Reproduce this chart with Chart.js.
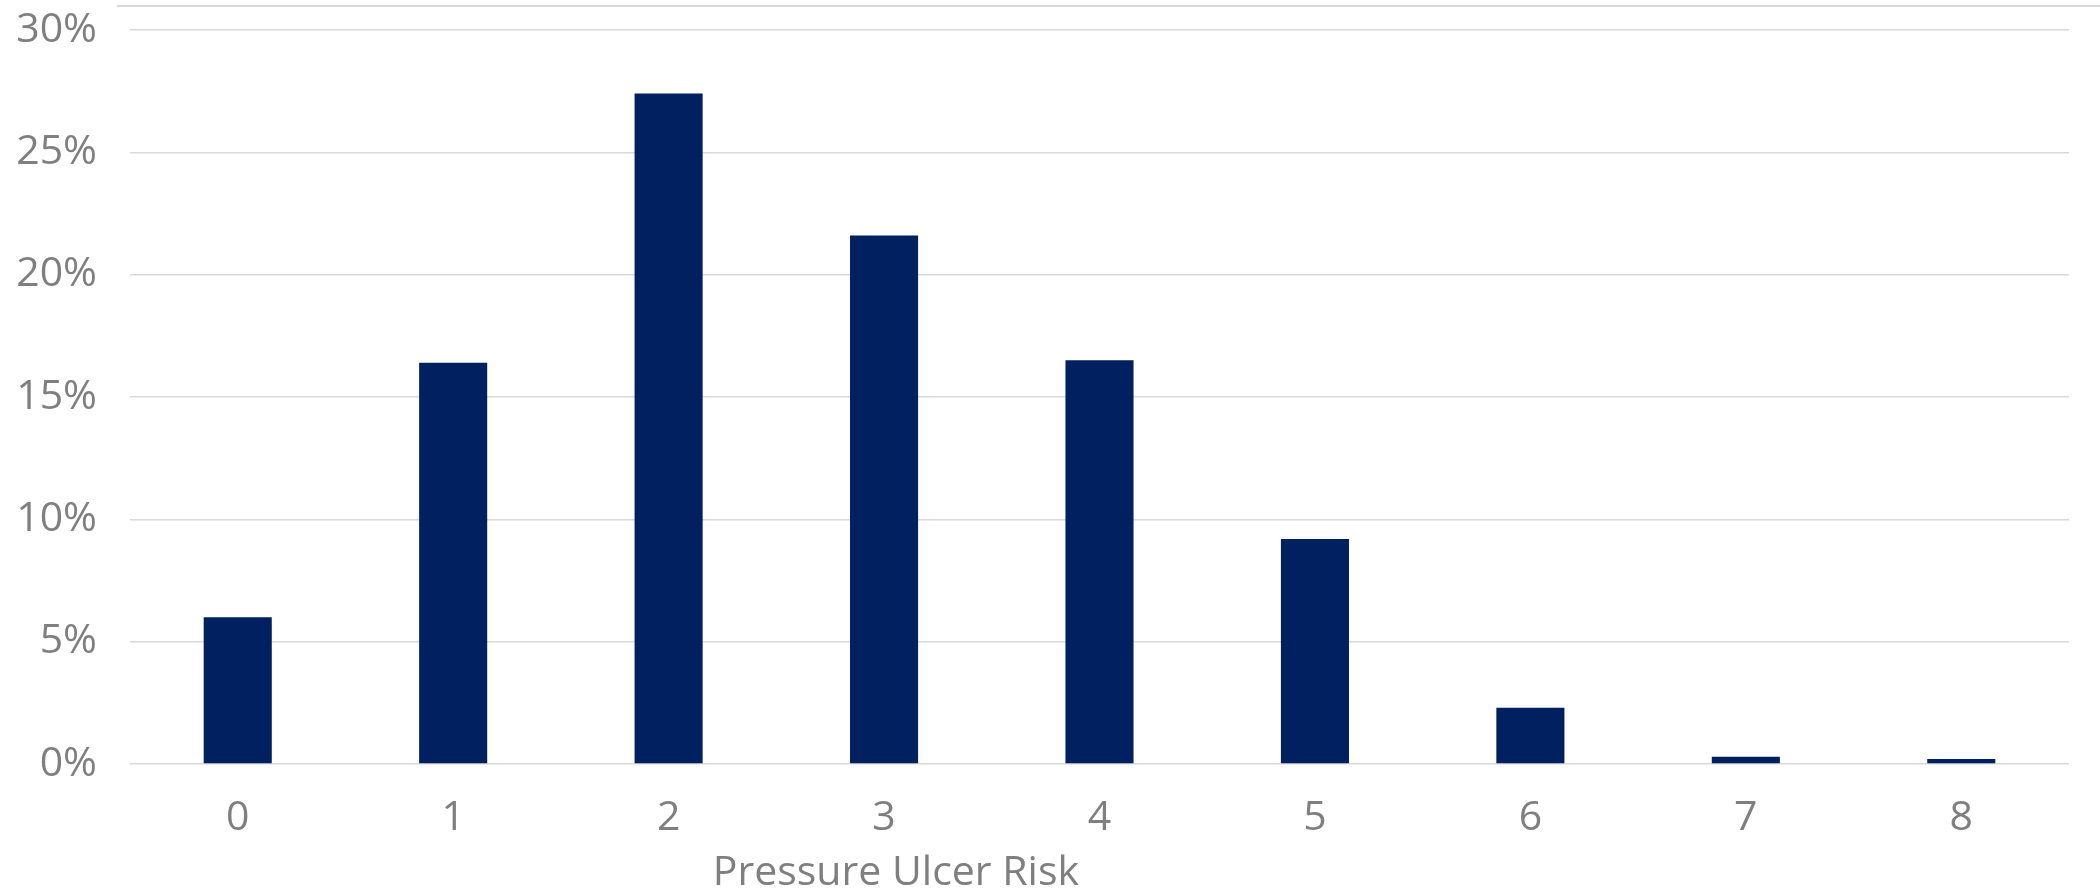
<!DOCTYPE html>
<html>
<head>
<meta charset="utf-8">
<script src="https://cdn.jsdelivr.net/npm/chart.js@4/dist/chart.umd.min.js"></script>
<style>
  html, body { margin: 0; padding: 0; background: #fff; }
  #wrap { position: relative; width: 2100px; height: 891px; }
  #topline { position: absolute; left: 117px; top: 5px; width: 1983px; height: 2px; background: #d9d9d9; }
  canvas { display: block; }
</style>
</head>
<body>
<div id="wrap">
  <canvas id="chart1" width="2100" height="891"></canvas>
  <div id="topline"></div>
</div>
<script>
// data
var riskScores = ['0', '1', '2', '3', '4', '5', '6', '7', '8'];
var sharePct = [6.0, 16.4, 27.4, 21.6, 16.5, 9.2, 2.3, 0.3, 0.2];
var yTicks = [0, 5, 10, 15, 20, 25, 30];
var xTitle = 'Pressure Ulcer Risk';

Chart.defaults.font.family = '"Open Sans", "Noto Sans", sans-serif';
Chart.defaults.font.size = 41;
Chart.defaults.color = '#7f7f7f';

// Excel-style axis title, sitting a bit left of centre
var axisTitle = {
    id: 'axisTitle',
    afterDraw: function (chart) {
        var ctx = chart.ctx, area = chart.chartArea;
        ctx.save();
        ctx.font = '41px "Open Sans", "Noto Sans", sans-serif';
        ctx.fillStyle = '#7f7f7f';
        ctx.textAlign = 'center';
        ctx.textBaseline = 'alphabetic';
        ctx.fillText(xTitle, area.left + (area.right - area.left) * 0.395, chart.height - 6);
        ctx.restore();
    }
};

var ctx = document.getElementById('chart1').getContext('2d');
var chart = new Chart(ctx, {
    type: 'bar',
    data: {
        labels: riskScores,
        datasets: [{
            label: 'Share of patients',
            backgroundColor: '#002060',
            borderWidth: 0,
            data: sharePct,
            categoryPercentage: 1,
            barPercentage: 0.316
        }]
    },
    options: {
        responsive: false,
        animation: false,
        devicePixelRatio: 1,
        layout: { padding: { top: 30, right: 31, bottom: 0, left: 0 } },
        plugins: {
            legend: { display: false },
            tooltip: { enabled: false }
        },
        scales: {
            x: {
                grid: { display: false, drawTicks: false },
                border: { display: false },
                ticks: { padding: 30, color: '#7f7f7f' },
                afterFit: function (s) { s.height = 127; s.paddingLeft = 0; s.paddingRight = 0; }
            },
            y: {
                min: 0,
                max: 30,
                afterBuildTicks: function (s) {
                    s.ticks = yTicks.map(function (v) { return { value: v }; });
                },
                ticks: {
                    padding: 33,
                    color: '#7f7f7f',
                    callback: function (v) { return v + '%'; }
                },
                grid: { color: '#d9d9d9', lineWidth: 1.5, drawTicks: false },
                border: { display: false },
                afterFit: function (s) { s.width = 130; s.paddingTop = 0; s.paddingBottom = 0; }
            }
        }
    },
    plugins: [axisTitle]
});
</script>
</body>
</html>
